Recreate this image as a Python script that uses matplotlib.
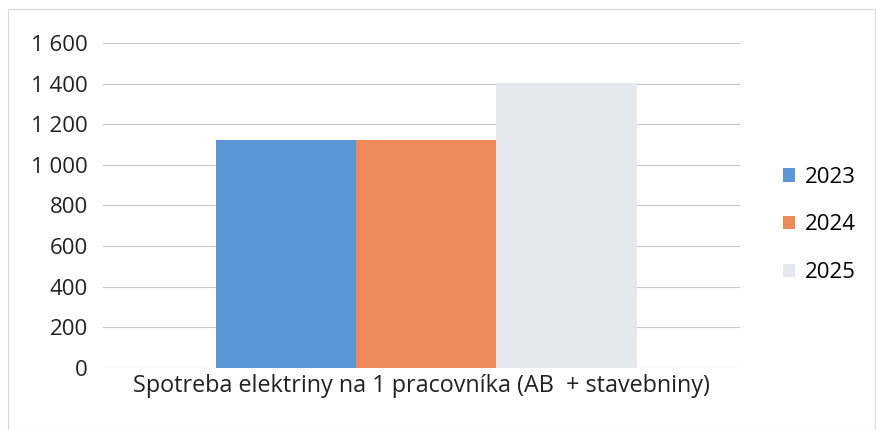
import matplotlib.pyplot as plt
from matplotlib.patches import Rectangle
from matplotlib.ticker import FuncFormatter

years = ['2023', '2024', '2025']
values = [1120, 1120, 1405]
colors = ['#5b96d6', '#ee8a5a', '#e6e8f0']
category = 'Spotreba elektriny na 1 pracovníka (AB  + stavebniny)'
yticks = [0, 200, 400, 600, 800, 1000, 1200, 1400, 1600]

plt.rcParams['font.family'] = ['Open Sans', 'DejaVu Sans']

fig = plt.figure(figsize=(8.76, 4.30), dpi=100)
ax = fig.add_axes([0.1176, 0.1442, 0.7274, 0.7558])

w = 0.22
for i, (y, v, c) in enumerate(zip(years, values, colors)):
    ax.bar((i - 1) * w + 0.0075, v, width=w, color=c, label=y, zorder=3)

ax.set_xlim(-0.5, 0.5)
ax.set_ylim(0, 1600)
ax.set_yticks(yticks)
ax.yaxis.set_major_formatter(FuncFormatter(lambda v, p: f'{int(v):,}'.replace(',', ' ')))
ax.set_xticks([0])
ax.set_xticklabels([category], fontsize=16.8)
ax.tick_params(axis='both', length=0, colors='#222222')
ax.tick_params(axis='y', pad=10.8, labelsize=16)
ax.tick_params(axis='x', pad=4)
ax.grid(axis='y', color='#c8c8c8', linewidth=0.8, zorder=0)
for s in ax.spines.values():
    s.set_visible(False)

ax.legend(loc='center left', bbox_to_anchor=(1.035, 0.44), frameon=False,
          fontsize=16, handlelength=0.55, handleheight=0.55, labelspacing=1.2,
          handletextpad=0.45)

fig.patches.append(Rectangle((0.009, 0.0), 0.99, 0.98, transform=fig.transFigure,
                             fill=False, edgecolor='#d8d8d8', linewidth=0.8))

fig.savefig('out.png', dpi=100)
